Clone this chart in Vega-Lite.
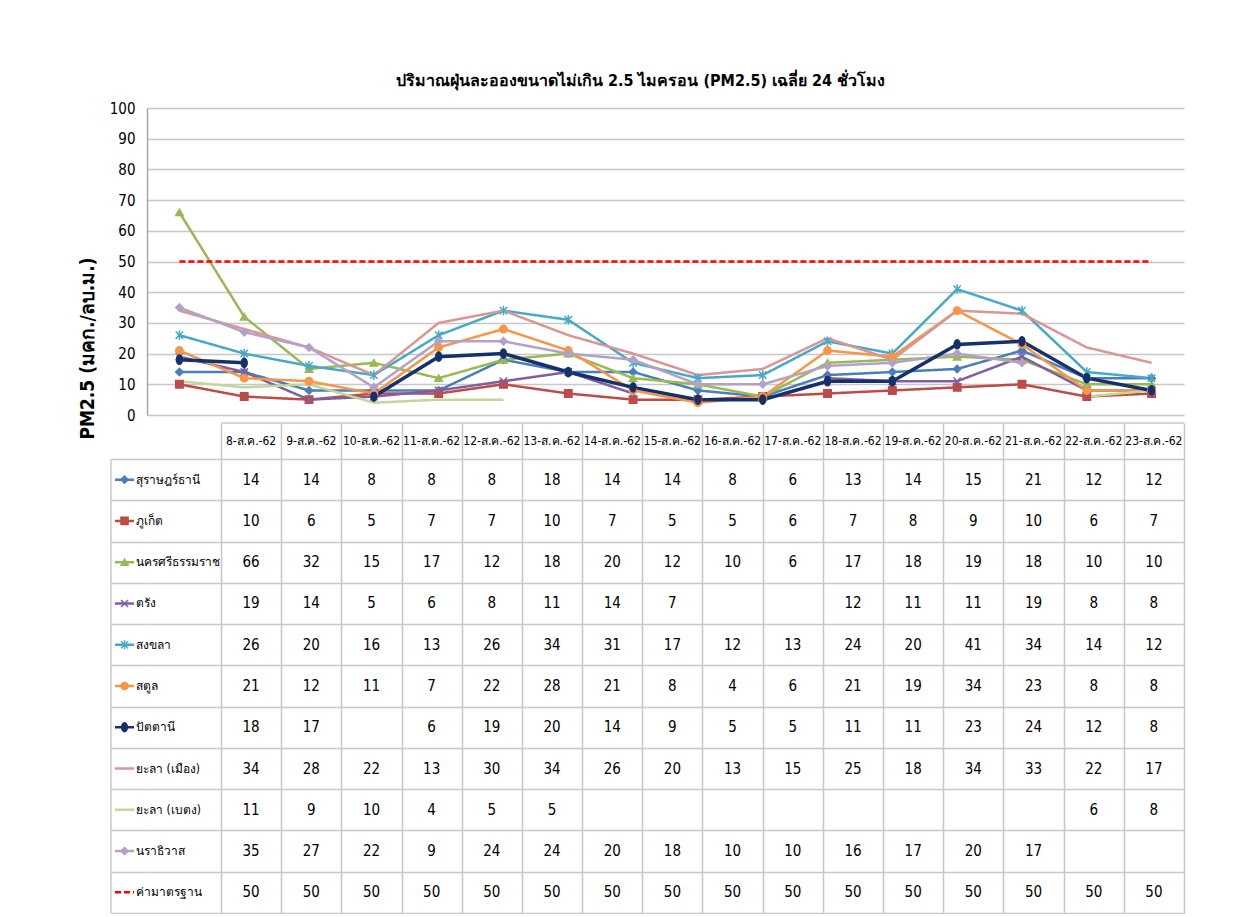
{
"$schema": "https://vega.github.io/schema/vega-lite/v6.json",
"background": "white",
"padding": {"left": 78, "top": 73, "right": 5, "bottom": 0},
"bounds": "flush",
"spacing": 8,
"config": {"view": {"stroke": null}, "font": "Liberation Sans Narrow, DejaVu Sans Condensed, Noto Sans, sans-serif", "text": {"color": "#000000"}},
"resolve": {"scale": {"x": "independent", "y": "independent"}},
"datasets": {"pm": [
{"station":"สุราษฎร์ธานี","day":8,"date":"8-ส.ค.-62","pm":14},{"station":"สุราษฎร์ธานี","day":9,"date":"9-ส.ค.-62","pm":14},{"station":"สุราษฎร์ธานี","day":10,"date":"10-ส.ค.-62","pm":8},{"station":"สุราษฎร์ธานี","day":11,"date":"11-ส.ค.-62","pm":8},{"station":"สุราษฎร์ธานี","day":12,"date":"12-ส.ค.-62","pm":8},{"station":"สุราษฎร์ธานี","day":13,"date":"13-ส.ค.-62","pm":18},{"station":"สุราษฎร์ธานี","day":14,"date":"14-ส.ค.-62","pm":14},{"station":"สุราษฎร์ธานี","day":15,"date":"15-ส.ค.-62","pm":14},{"station":"สุราษฎร์ธานี","day":16,"date":"16-ส.ค.-62","pm":8},{"station":"สุราษฎร์ธานี","day":17,"date":"17-ส.ค.-62","pm":6},{"station":"สุราษฎร์ธานี","day":18,"date":"18-ส.ค.-62","pm":13},{"station":"สุราษฎร์ธานี","day":19,"date":"19-ส.ค.-62","pm":14},{"station":"สุราษฎร์ธานี","day":20,"date":"20-ส.ค.-62","pm":15},{"station":"สุราษฎร์ธานี","day":21,"date":"21-ส.ค.-62","pm":21},{"station":"สุราษฎร์ธานี","day":22,"date":"22-ส.ค.-62","pm":12},{"station":"สุราษฎร์ธานี","day":23,"date":"23-ส.ค.-62","pm":12},
{"station":"ภูเก็ต","day":8,"date":"8-ส.ค.-62","pm":10},{"station":"ภูเก็ต","day":9,"date":"9-ส.ค.-62","pm":6},{"station":"ภูเก็ต","day":10,"date":"10-ส.ค.-62","pm":5},{"station":"ภูเก็ต","day":11,"date":"11-ส.ค.-62","pm":7},{"station":"ภูเก็ต","day":12,"date":"12-ส.ค.-62","pm":7},{"station":"ภูเก็ต","day":13,"date":"13-ส.ค.-62","pm":10},{"station":"ภูเก็ต","day":14,"date":"14-ส.ค.-62","pm":7},{"station":"ภูเก็ต","day":15,"date":"15-ส.ค.-62","pm":5},{"station":"ภูเก็ต","day":16,"date":"16-ส.ค.-62","pm":5},{"station":"ภูเก็ต","day":17,"date":"17-ส.ค.-62","pm":6},{"station":"ภูเก็ต","day":18,"date":"18-ส.ค.-62","pm":7},{"station":"ภูเก็ต","day":19,"date":"19-ส.ค.-62","pm":8},{"station":"ภูเก็ต","day":20,"date":"20-ส.ค.-62","pm":9},{"station":"ภูเก็ต","day":21,"date":"21-ส.ค.-62","pm":10},{"station":"ภูเก็ต","day":22,"date":"22-ส.ค.-62","pm":6},{"station":"ภูเก็ต","day":23,"date":"23-ส.ค.-62","pm":7},
{"station":"นครศรีธรรมราช","day":8,"date":"8-ส.ค.-62","pm":66},{"station":"นครศรีธรรมราช","day":9,"date":"9-ส.ค.-62","pm":32},{"station":"นครศรีธรรมราช","day":10,"date":"10-ส.ค.-62","pm":15},{"station":"นครศรีธรรมราช","day":11,"date":"11-ส.ค.-62","pm":17},{"station":"นครศรีธรรมราช","day":12,"date":"12-ส.ค.-62","pm":12},{"station":"นครศรีธรรมราช","day":13,"date":"13-ส.ค.-62","pm":18},{"station":"นครศรีธรรมราช","day":14,"date":"14-ส.ค.-62","pm":20},{"station":"นครศรีธรรมราช","day":15,"date":"15-ส.ค.-62","pm":12},{"station":"นครศรีธรรมราช","day":16,"date":"16-ส.ค.-62","pm":10},{"station":"นครศรีธรรมราช","day":17,"date":"17-ส.ค.-62","pm":6},{"station":"นครศรีธรรมราช","day":18,"date":"18-ส.ค.-62","pm":17},{"station":"นครศรีธรรมราช","day":19,"date":"19-ส.ค.-62","pm":18},{"station":"นครศรีธรรมราช","day":20,"date":"20-ส.ค.-62","pm":19},{"station":"นครศรีธรรมราช","day":21,"date":"21-ส.ค.-62","pm":18},{"station":"นครศรีธรรมราช","day":22,"date":"22-ส.ค.-62","pm":10},{"station":"นครศรีธรรมราช","day":23,"date":"23-ส.ค.-62","pm":10},
{"station":"ตรัง","day":8,"date":"8-ส.ค.-62","pm":19},{"station":"ตรัง","day":9,"date":"9-ส.ค.-62","pm":14},{"station":"ตรัง","day":10,"date":"10-ส.ค.-62","pm":5},{"station":"ตรัง","day":11,"date":"11-ส.ค.-62","pm":6},{"station":"ตรัง","day":12,"date":"12-ส.ค.-62","pm":8},{"station":"ตรัง","day":13,"date":"13-ส.ค.-62","pm":11},{"station":"ตรัง","day":14,"date":"14-ส.ค.-62","pm":14},{"station":"ตรัง","day":15,"date":"15-ส.ค.-62","pm":7},{"station":"ตรัง","day":16,"date":"16-ส.ค.-62","pm":null},{"station":"ตรัง","day":17,"date":"17-ส.ค.-62","pm":null},{"station":"ตรัง","day":18,"date":"18-ส.ค.-62","pm":12},{"station":"ตรัง","day":19,"date":"19-ส.ค.-62","pm":11},{"station":"ตรัง","day":20,"date":"20-ส.ค.-62","pm":11},{"station":"ตรัง","day":21,"date":"21-ส.ค.-62","pm":19},{"station":"ตรัง","day":22,"date":"22-ส.ค.-62","pm":8},{"station":"ตรัง","day":23,"date":"23-ส.ค.-62","pm":8},
{"station":"สงขลา","day":8,"date":"8-ส.ค.-62","pm":26},{"station":"สงขลา","day":9,"date":"9-ส.ค.-62","pm":20},{"station":"สงขลา","day":10,"date":"10-ส.ค.-62","pm":16},{"station":"สงขลา","day":11,"date":"11-ส.ค.-62","pm":13},{"station":"สงขลา","day":12,"date":"12-ส.ค.-62","pm":26},{"station":"สงขลา","day":13,"date":"13-ส.ค.-62","pm":34},{"station":"สงขลา","day":14,"date":"14-ส.ค.-62","pm":31},{"station":"สงขลา","day":15,"date":"15-ส.ค.-62","pm":17},{"station":"สงขลา","day":16,"date":"16-ส.ค.-62","pm":12},{"station":"สงขลา","day":17,"date":"17-ส.ค.-62","pm":13},{"station":"สงขลา","day":18,"date":"18-ส.ค.-62","pm":24},{"station":"สงขลา","day":19,"date":"19-ส.ค.-62","pm":20},{"station":"สงขลา","day":20,"date":"20-ส.ค.-62","pm":41},{"station":"สงขลา","day":21,"date":"21-ส.ค.-62","pm":34},{"station":"สงขลา","day":22,"date":"22-ส.ค.-62","pm":14},{"station":"สงขลา","day":23,"date":"23-ส.ค.-62","pm":12},
{"station":"สตูล","day":8,"date":"8-ส.ค.-62","pm":21},{"station":"สตูล","day":9,"date":"9-ส.ค.-62","pm":12},{"station":"สตูล","day":10,"date":"10-ส.ค.-62","pm":11},{"station":"สตูล","day":11,"date":"11-ส.ค.-62","pm":7},{"station":"สตูล","day":12,"date":"12-ส.ค.-62","pm":22},{"station":"สตูล","day":13,"date":"13-ส.ค.-62","pm":28},{"station":"สตูล","day":14,"date":"14-ส.ค.-62","pm":21},{"station":"สตูล","day":15,"date":"15-ส.ค.-62","pm":8},{"station":"สตูล","day":16,"date":"16-ส.ค.-62","pm":4},{"station":"สตูล","day":17,"date":"17-ส.ค.-62","pm":6},{"station":"สตูล","day":18,"date":"18-ส.ค.-62","pm":21},{"station":"สตูล","day":19,"date":"19-ส.ค.-62","pm":19},{"station":"สตูล","day":20,"date":"20-ส.ค.-62","pm":34},{"station":"สตูล","day":21,"date":"21-ส.ค.-62","pm":23},{"station":"สตูล","day":22,"date":"22-ส.ค.-62","pm":8},{"station":"สตูล","day":23,"date":"23-ส.ค.-62","pm":8},
{"station":"ปัตตานี","day":8,"date":"8-ส.ค.-62","pm":18},{"station":"ปัตตานี","day":9,"date":"9-ส.ค.-62","pm":17},{"station":"ปัตตานี","day":10,"date":"10-ส.ค.-62","pm":null},{"station":"ปัตตานี","day":11,"date":"11-ส.ค.-62","pm":6},{"station":"ปัตตานี","day":12,"date":"12-ส.ค.-62","pm":19},{"station":"ปัตตานี","day":13,"date":"13-ส.ค.-62","pm":20},{"station":"ปัตตานี","day":14,"date":"14-ส.ค.-62","pm":14},{"station":"ปัตตานี","day":15,"date":"15-ส.ค.-62","pm":9},{"station":"ปัตตานี","day":16,"date":"16-ส.ค.-62","pm":5},{"station":"ปัตตานี","day":17,"date":"17-ส.ค.-62","pm":5},{"station":"ปัตตานี","day":18,"date":"18-ส.ค.-62","pm":11},{"station":"ปัตตานี","day":19,"date":"19-ส.ค.-62","pm":11},{"station":"ปัตตานี","day":20,"date":"20-ส.ค.-62","pm":23},{"station":"ปัตตานี","day":21,"date":"21-ส.ค.-62","pm":24},{"station":"ปัตตานี","day":22,"date":"22-ส.ค.-62","pm":12},{"station":"ปัตตานี","day":23,"date":"23-ส.ค.-62","pm":8},
{"station":"ยะลา (เมือง)","day":8,"date":"8-ส.ค.-62","pm":34},{"station":"ยะลา (เมือง)","day":9,"date":"9-ส.ค.-62","pm":28},{"station":"ยะลา (เมือง)","day":10,"date":"10-ส.ค.-62","pm":22},{"station":"ยะลา (เมือง)","day":11,"date":"11-ส.ค.-62","pm":13},{"station":"ยะลา (เมือง)","day":12,"date":"12-ส.ค.-62","pm":30},{"station":"ยะลา (เมือง)","day":13,"date":"13-ส.ค.-62","pm":34},{"station":"ยะลา (เมือง)","day":14,"date":"14-ส.ค.-62","pm":26},{"station":"ยะลา (เมือง)","day":15,"date":"15-ส.ค.-62","pm":20},{"station":"ยะลา (เมือง)","day":16,"date":"16-ส.ค.-62","pm":13},{"station":"ยะลา (เมือง)","day":17,"date":"17-ส.ค.-62","pm":15},{"station":"ยะลา (เมือง)","day":18,"date":"18-ส.ค.-62","pm":25},{"station":"ยะลา (เมือง)","day":19,"date":"19-ส.ค.-62","pm":18},{"station":"ยะลา (เมือง)","day":20,"date":"20-ส.ค.-62","pm":34},{"station":"ยะลา (เมือง)","day":21,"date":"21-ส.ค.-62","pm":33},{"station":"ยะลา (เมือง)","day":22,"date":"22-ส.ค.-62","pm":22},{"station":"ยะลา (เมือง)","day":23,"date":"23-ส.ค.-62","pm":17},
{"station":"ยะลา (เบตง)","day":8,"date":"8-ส.ค.-62","pm":11},{"station":"ยะลา (เบตง)","day":9,"date":"9-ส.ค.-62","pm":9},{"station":"ยะลา (เบตง)","day":10,"date":"10-ส.ค.-62","pm":10},{"station":"ยะลา (เบตง)","day":11,"date":"11-ส.ค.-62","pm":4},{"station":"ยะลา (เบตง)","day":12,"date":"12-ส.ค.-62","pm":5},{"station":"ยะลา (เบตง)","day":13,"date":"13-ส.ค.-62","pm":5},{"station":"ยะลา (เบตง)","day":14,"date":"14-ส.ค.-62","pm":null},{"station":"ยะลา (เบตง)","day":15,"date":"15-ส.ค.-62","pm":null},{"station":"ยะลา (เบตง)","day":16,"date":"16-ส.ค.-62","pm":null},{"station":"ยะลา (เบตง)","day":17,"date":"17-ส.ค.-62","pm":null},{"station":"ยะลา (เบตง)","day":18,"date":"18-ส.ค.-62","pm":null},{"station":"ยะลา (เบตง)","day":19,"date":"19-ส.ค.-62","pm":null},{"station":"ยะลา (เบตง)","day":20,"date":"20-ส.ค.-62","pm":null},{"station":"ยะลา (เบตง)","day":21,"date":"21-ส.ค.-62","pm":null},{"station":"ยะลา (เบตง)","day":22,"date":"22-ส.ค.-62","pm":6},{"station":"ยะลา (เบตง)","day":23,"date":"23-ส.ค.-62","pm":8},
{"station":"นราธิวาส","day":8,"date":"8-ส.ค.-62","pm":35},{"station":"นราธิวาส","day":9,"date":"9-ส.ค.-62","pm":27},{"station":"นราธิวาส","day":10,"date":"10-ส.ค.-62","pm":22},{"station":"นราธิวาส","day":11,"date":"11-ส.ค.-62","pm":9},{"station":"นราธิวาส","day":12,"date":"12-ส.ค.-62","pm":24},{"station":"นราธิวาส","day":13,"date":"13-ส.ค.-62","pm":24},{"station":"นราธิวาส","day":14,"date":"14-ส.ค.-62","pm":20},{"station":"นราธิวาส","day":15,"date":"15-ส.ค.-62","pm":18},{"station":"นราธิวาส","day":16,"date":"16-ส.ค.-62","pm":10},{"station":"นราธิวาส","day":17,"date":"17-ส.ค.-62","pm":10},{"station":"นราธิวาส","day":18,"date":"18-ส.ค.-62","pm":16},{"station":"นราธิวาส","day":19,"date":"19-ส.ค.-62","pm":17},{"station":"นราธิวาส","day":20,"date":"20-ส.ค.-62","pm":20},{"station":"นราธิวาส","day":21,"date":"21-ส.ค.-62","pm":17},{"station":"นราธิวาส","day":22,"date":"22-ส.ค.-62","pm":null},{"station":"นราธิวาส","day":23,"date":"23-ส.ค.-62","pm":null},
{"station":"ค่ามาตรฐาน","day":8,"date":"8-ส.ค.-62","pm":50},{"station":"ค่ามาตรฐาน","day":9,"date":"9-ส.ค.-62","pm":50},{"station":"ค่ามาตรฐาน","day":10,"date":"10-ส.ค.-62","pm":50},{"station":"ค่ามาตรฐาน","day":11,"date":"11-ส.ค.-62","pm":50},{"station":"ค่ามาตรฐาน","day":12,"date":"12-ส.ค.-62","pm":50},{"station":"ค่ามาตรฐาน","day":13,"date":"13-ส.ค.-62","pm":50},{"station":"ค่ามาตรฐาน","day":14,"date":"14-ส.ค.-62","pm":50},{"station":"ค่ามาตรฐาน","day":15,"date":"15-ส.ค.-62","pm":50},{"station":"ค่ามาตรฐาน","day":16,"date":"16-ส.ค.-62","pm":50},{"station":"ค่ามาตรฐาน","day":17,"date":"17-ส.ค.-62","pm":50},{"station":"ค่ามาตรฐาน","day":18,"date":"18-ส.ค.-62","pm":50},{"station":"ค่ามาตรฐาน","day":19,"date":"19-ส.ค.-62","pm":50},{"station":"ค่ามาตรฐาน","day":20,"date":"20-ส.ค.-62","pm":50},{"station":"ค่ามาตรฐาน","day":21,"date":"21-ส.ค.-62","pm":50},{"station":"ค่ามาตรฐาน","day":22,"date":"22-ส.ค.-62","pm":50},{"station":"ค่ามาตรฐาน","day":23,"date":"23-ส.ค.-62","pm":50}
]},
"vconcat": [
{
 "width": 1037, "height": 307,
 "title": {"text": "ปริมาณฝุ่นละอองขนาดไม่เกิน 2.5 ไมครอน (PM2.5) เฉลี่ย 24 ชั่วโมง", "fontSize": 16, "fontWeight": "bold", "color": "#000000", "offset": 12, "dx": -25, "anchor": "middle"},
 "data": {"name": "pm"},
 "encoding": {
  "x": {"field": "day", "type": "quantitative", "scale": {"domain": [7.5, 23.5], "nice": false, "zero": false}, "axis": null},
  "y": {"field": "pm", "type": "quantitative", "scale": {"domain": [0, 100], "nice": false},
    "axis": {"values": [0,10,20,30,40,50,60,70,80,90,100], "tickCount": 11, "labelOverlap": false, "grid": true, "gridColor": "#c8c8c8", "gridWidth": 1.5, "domain": true, "domainColor": "#a6a6a6", "domainWidth": 1.5, "ticks": false, "labelPadding": 12, "labelFontSize": 15, "labelColor": "#000000", "title": "PM2.5 (มคก./ลบ.ม.)", "titleX": -60, "titleY": 240, "titleAngle": -90, "titleAlign": "center", "titleBaseline": "middle", "titleFontSize": 19, "titleFontWeight": "bold", "titleColor": "#000000"}},
  "color": {"field": "station", "type": "nominal", "legend": null,
    "scale": {"domain": ["สุราษฎร์ธานี","ภูเก็ต","นครศรีธรรมราช","ตรัง","สงขลา","สตูล","ปัตตานี","ยะลา (เมือง)","ยะลา (เบตง)","นราธิวาส","ค่ามาตรฐาน"],
              "range": ["#4a7ebb","#be4b48","#98b954","#7d60a0","#46aac5","#f79646","#15306b","#d99694","#c3d69b","#b3a2c7","#ff0000"]}}
 },
 "layer": [
  {"transform": [{"filter": {"not": {"field": "station", "equal": "ปัตตานี"}}}],
   "mark": {"type": "line", "strokeWidth": 2.5, "invalid": "break-paths-filter-domains"},
   "encoding": {
    "strokeDash": {"field": "station", "type": "nominal", "legend": null,
      "scale": {"domain": ["สุราษฎร์ธานี","ภูเก็ต","นครศรีธรรมราช","ตรัง","สงขลา","สตูล","ปัตตานี","ยะลา (เมือง)","ยะลา (เบตง)","นราธิวาส","ค่ามาตรฐาน"],
                "range": [[1,0],[1,0],[1,0],[1,0],[1,0],[1,0],[1,0],[1,0],[1,0],[1,0],[6,3]]}}
   }},
  {"transform": [{"filter": {"field": "station", "equal": "ปัตตานี"}}],
   "mark": {"type": "line", "strokeWidth": 3.5, "invalid": "break-paths-filter-domains"},
   "encoding": {}},
  {"transform": [{"filter": {"field": "station", "oneOf": ["สุราษฎร์ธานี","ภูเก็ต","นครศรีธรรมราช","ตรัง","สงขลา","สตูล","ปัตตานี","นราธิวาส"]}}, {"filter": "isValid(datum.pm)"}],
   "mark": {"type": "point", "filled": true, "size": 55, "strokeWidth": 1.5, "opacity": 1},
   "encoding": {
    "stroke": {"field": "station", "type": "nominal", "legend": null,
      "scale": {"domain": ["สุราษฎร์ธานี","ภูเก็ต","นครศรีธรรมราช","ตรัง","สงขลา","สตูล","ปัตตานี","ยะลา (เมือง)","ยะลา (เบตง)","นราธิวาส","ค่ามาตรฐาน"],
                "range": ["#4a7ebb","#be4b48","#98b954","#7d60a0","#46aac5","#f79646","#15306b","#d99694","#c3d69b","#b3a2c7","#ff0000"]}},
    "shape": {"field": "station", "type": "nominal", "legend": null,
      "scale": {"domain": ["สุราษฎร์ธานี","ภูเก็ต","นครศรีธรรมราช","ตรัง","สงขลา","สตูล","ปัตตานี","นราธิวาส"],
                "range": ["diamond","square","triangle-up","M-1,-1L1,1M-1,1L1,-1","M-1,-1L1,1M-1,1L1,-1M0,-1.3L0,1.3","circle","M0,-1.25A0.8,1.25 0 1,1 0,1.25A0.8,1.25 0 1,1 0,-1.25Z","diamond"]}}
   }}
 ]
},
{
 "bounds": "flush",
 "spacing": 0,
 "resolve": {"scale": {"x": "independent", "y": "independent"}},
 "vconcat": [
  {
   "width": 1037, "height": 36,
   "layer": [
    {"data": {"name": "pm"},
     "transform": [{"filter": {"field": "station", "equal": "สุราษฎร์ธานี"}}],
     "mark": {"type": "text", "fontSize": 12, "align": "center", "baseline": "middle"},
     "encoding": {
      "x": {"field": "day", "type": "quantitative", "scale": {"domain": [6.2706, 23.5], "nice": false, "zero": false},
        "axis": {"values": [7.5,8.5,9.5,10.5,11.5,12.5,13.5,14.5,15.5,16.5,17.5,18.5,19.5,20.5,21.5,22.5,23.5], "grid": true, "gridColor": "#c8c8c8", "gridWidth": 1.5, "labels": false, "ticks": false, "domain": false, "title": null}},
      "text": {"field": "date", "type": "nominal"}
     }},
    {"data": {"values": [{}]},
     "mark": {"type": "rule", "color": "#c8c8c8", "strokeWidth": 1.5},
     "encoding": {
      "x": {"datum": 7.5, "type": "quantitative"},
      "x2": {"datum": 23.5},
      "y": {"datum": 1, "type": "quantitative", "scale": {"domain": [0, 1], "nice": false}, "axis": null}
     }}
   ]
  },
  {
   "width": 1037, "height": 454,
   "layer": [
    {"data": {"values": [{}]},
     "mark": {"type": "rule", "color": "#c8c8c8", "strokeWidth": 1.5},
     "encoding": {"x": {"datum": 5.6725, "type": "quantitative"}}},
    {"data": {"name": "pm"},
     "transform": [{"filter": "isValid(datum.pm)"}],
     "mark": {"type": "text", "fontSize": 15, "align": "center", "baseline": "middle"},
     "encoding": {
      "x": {"field": "day", "type": "quantitative", "scale": {"domain": [6.2706, 23.5], "nice": false, "zero": false},
        "axis": {"values": [7.5,8.5,9.5,10.5,11.5,12.5,13.5,14.5,15.5,16.5,17.5,18.5,19.5,20.5,21.5,22.5,23.5], "grid": true, "gridColor": "#c8c8c8", "gridWidth": 1.5, "labels": false, "ticks": false, "domain": false, "title": null}},
      "y": {"field": "station", "type": "nominal",
        "scale": {"domain": ["สุราษฎร์ธานี","ภูเก็ต","นครศรีธรรมราช","ตรัง","สงขลา","สตูล","ปัตตานี","ยะลา (เมือง)","ยะลา (เบตง)","นราธิวาส","ค่ามาตรฐาน"], "paddingInner": 0, "paddingOuter": 0},
        "axis": {"labels": false, "ticks": true, "tickSize": 36, "tickBand": "extent", "tickColor": "#c8c8c8", "tickWidth": 1.5, "grid": true, "gridColor": "#c8c8c8", "gridWidth": 1.5, "domain": false, "title": null}},
      "text": {"field": "pm", "type": "quantitative"}
     }},
    {"data": {"name": "pm"},
     "transform": [{"filter": "datum.day == 8"}],
     "mark": {"type": "rule", "strokeWidth": 2.5},
     "encoding": {
      "x": {"datum": 5.739, "type": "quantitative"},
      "x2": {"datum": 6.055},
      "y": {"field": "station", "type": "nominal"},
      "color": {"field": "station", "type": "nominal", "legend": null,
        "scale": {"domain": ["สุราษฎร์ธานี","ภูเก็ต","นครศรีธรรมราช","ตรัง","สงขลา","สตูล","ปัตตานี","ยะลา (เมือง)","ยะลา (เบตง)","นราธิวาส","ค่ามาตรฐาน"],
                  "range": ["#4a7ebb","#be4b48","#98b954","#7d60a0","#46aac5","#f79646","#15306b","#d99694","#c3d69b","#b3a2c7","#ff0000"]}},
      "strokeDash": {"field": "station", "type": "nominal", "legend": null,
        "scale": {"domain": ["สุราษฎร์ธานี","ภูเก็ต","นครศรีธรรมราช","ตรัง","สงขลา","สตูล","ปัตตานี","ยะลา (เมือง)","ยะลา (เบตง)","นราธิวาส","ค่ามาตรฐาน"],
                  "range": [[1,0],[1,0],[1,0],[1,0],[1,0],[1,0],[1,0],[1,0],[1,0],[1,0],[4,2]]}}
     }},
    {"data": {"name": "pm"},
     "transform": [{"filter": "datum.day == 8"}, {"filter": {"field": "station", "oneOf": ["สุราษฎร์ธานี","ภูเก็ต","นครศรีธรรมราช","ตรัง","สงขลา","สตูล","ปัตตานี","นราธิวาส"]}}],
     "mark": {"type": "point", "filled": true, "size": 50, "strokeWidth": 1.5, "opacity": 1},
     "encoding": {
      "x": {"datum": 5.897, "type": "quantitative"},
      "y": {"field": "station", "type": "nominal"},
      "color": {"field": "station", "type": "nominal", "legend": null},
      "stroke": {"field": "station", "type": "nominal", "legend": null,
        "scale": {"domain": ["สุราษฎร์ธานี","ภูเก็ต","นครศรีธรรมราช","ตรัง","สงขลา","สตูล","ปัตตานี","ยะลา (เมือง)","ยะลา (เบตง)","นราธิวาส","ค่ามาตรฐาน"],
                  "range": ["#4a7ebb","#be4b48","#98b954","#7d60a0","#46aac5","#f79646","#15306b","#d99694","#c3d69b","#b3a2c7","#ff0000"]}},
      "shape": {"field": "station", "type": "nominal", "legend": null,
        "scale": {"domain": ["สุราษฎร์ธานี","ภูเก็ต","นครศรีธรรมราช","ตรัง","สงขลา","สตูล","ปัตตานี","นราธิวาส"],
                  "range": ["diamond","square","triangle-up","M-1,-1L1,1M-1,1L1,-1","M-1,-1L1,1M-1,1L1,-1M0,-1.3L0,1.3","circle","M0,-1.25A0.8,1.25 0 1,1 0,1.25A0.8,1.25 0 1,1 0,-1.25Z","diamond"]}}
     }},
    {"data": {"name": "pm"},
     "transform": [{"filter": "datum.day == 8"}],
     "mark": {"type": "text", "fontSize": 12, "align": "left", "baseline": "middle"},
     "encoding": {
      "x": {"datum": 6.088, "type": "quantitative"},
      "y": {"field": "station", "type": "nominal"},
      "text": {"field": "station", "type": "nominal"}
     }}
   ]
  }
 ]
}
]
}
